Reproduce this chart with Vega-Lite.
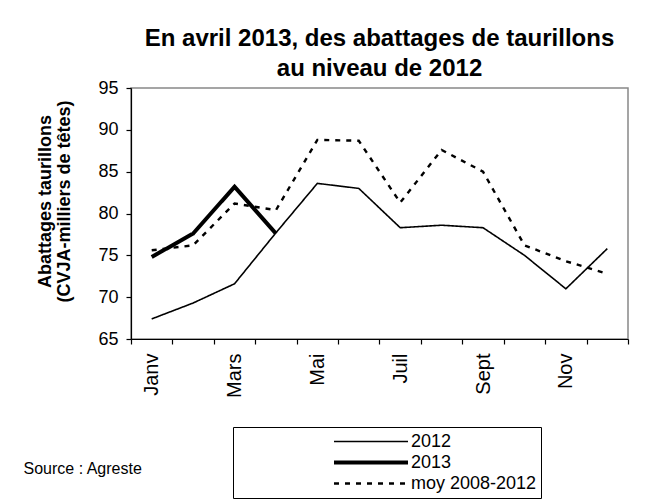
{
  "$schema": "https://vega.github.io/schema/vega-lite/v6.json",
  "width": 497,
  "height": 251,
  "autosize": "none",
  "padding": {"left": 131, "top": 88, "right": 17, "bottom": 163},
  "background": "white",
  "title": {
    "text": ["En avril 2013, des abattages de taurillons", "au niveau de 2012"],
    "anchor": "middle",
    "fontSize": 24,
    "fontWeight": "bold",
    "font": "Liberation Sans",
    "color": "black",
    "lineHeight": 30,
    "offset": -2
  },
  "data": {
    "values": [
      {"mois": "Janv", "serie": "2012", "v": 67.4},
      {"mois": "Févr", "serie": "2012", "v": 69.3},
      {"mois": "Mars", "serie": "2012", "v": 71.6},
      {"mois": "Avr", "serie": "2012", "v": 77.7},
      {"mois": "Mai", "serie": "2012", "v": 83.6},
      {"mois": "Juin", "serie": "2012", "v": 83.0},
      {"mois": "Juil", "serie": "2012", "v": 78.3},
      {"mois": "Août", "serie": "2012", "v": 78.6},
      {"mois": "Sept", "serie": "2012", "v": 78.3},
      {"mois": "Oct", "serie": "2012", "v": 75.0},
      {"mois": "Nov", "serie": "2012", "v": 71.0},
      {"mois": "Déc", "serie": "2012", "v": 75.8},
      {"mois": "Janv", "serie": "2013", "v": 74.8},
      {"mois": "Févr", "serie": "2013", "v": 77.6},
      {"mois": "Mars", "serie": "2013", "v": 83.2},
      {"mois": "Avr", "serie": "2013", "v": 77.6},
      {"mois": "Janv", "serie": "moy 2008-2012", "v": 75.6},
      {"mois": "Févr", "serie": "moy 2008-2012", "v": 76.2},
      {"mois": "Mars", "serie": "moy 2008-2012", "v": 81.2},
      {"mois": "Avr", "serie": "moy 2008-2012", "v": 80.4},
      {"mois": "Mai", "serie": "moy 2008-2012", "v": 88.8},
      {"mois": "Juin", "serie": "moy 2008-2012", "v": 88.7},
      {"mois": "Juil", "serie": "moy 2008-2012", "v": 81.3},
      {"mois": "Août", "serie": "moy 2008-2012", "v": 87.6},
      {"mois": "Sept", "serie": "moy 2008-2012", "v": 85.0},
      {"mois": "Oct", "serie": "moy 2008-2012", "v": 76.2},
      {"mois": "Nov", "serie": "moy 2008-2012", "v": 74.3},
      {"mois": "Déc", "serie": "moy 2008-2012", "v": 72.8}
    ]
  },
  "mark": {"type": "line", "strokeJoin": "miter", "strokeCap": "butt", "color": "black"},
  "encoding": {
    "x": {
      "field": "mois",
      "type": "ordinal",
      "sort": ["Janv", "Févr", "Mars", "Avr", "Mai", "Juin", "Juil", "Août", "Sept", "Oct", "Nov", "Déc"],
      "scale": {"paddingInner": 0, "paddingOuter": 0},
      "axis": {
        "title": "Source : Agreste",
        "titleX": -108,
        "titleY": 129,
        "titleAlign": "left",
        "titleBaseline": "middle",
        "titleAnchor": null,
        "titleFontWeight": "normal",
        "titleFontSize": 16,
        "labelAngle": -90,
        "labelAlign": "right",
        "labelBaseline": "middle",
        "labelPadding": 9,
        "labelFontSize": 20,
        "labelExpr": "indexof(['Janv','Mars','Mai','Juil','Sept','Nov'], datum.value) >= 0 ? datum.value : ''",
        "tickBand": "extent",
        "tickSize": 5
      }
    },
    "y": {
      "field": "v",
      "type": "quantitative",
      "scale": {"domain": [65, 95], "nice": false, "zero": false},
      "axis": {
        "values": [65, 70, 75, 80, 85, 90, 95],
        "title": ["Abattages taurillons", "(CVJA-milliers de têtes)"],
        "titleFontSize": 18,
        "titleFontWeight": "bold",
        "titleLineHeight": 19,
        "titlePadding": 24,
        "titleY": 113,
        "labelPadding": 8,
        "labelFontSize": 18,
        "tickSize": 5,
        "grid": false
      }
    },
    "strokeWidth": {
      "field": "serie",
      "type": "nominal",
      "scale": {"type": "ordinal", "domain": ["2012", "2013", "moy 2008-2012"], "range": [1.6, 4, 2.4]},
      "legend": {
        "title": null,
        "orient": "none",
        "legendX": 102,
        "legendY": 339,
        "symbolType": "stroke",
        "symbolSize": 5476,
        "symbolStrokeColor": "black",
        "symbolOffset": 95,
        "clipHeight": 21,
        "labelOffset": 1,
        "labelFontSize": 18,
        "rowPadding": -2,
        "padding": 4,
        "strokeColor": "black",
        "fillColor": "white"
      }
    },
    "strokeDash": {
      "field": "serie",
      "type": "nominal",
      "scale": {"domain": ["2012", "2013", "moy 2008-2012"], "range": [[1, 0], [1, 0], [5, 6]]},
      "legend": {
        "title": null,
        "orient": "none",
        "legendX": 102,
        "legendY": 339,
        "symbolType": "stroke",
        "symbolSize": 5476,
        "symbolStrokeColor": "black",
        "symbolOffset": 95,
        "clipHeight": 21,
        "labelOffset": 1,
        "labelFontSize": 18,
        "rowPadding": -2,
        "padding": 4,
        "strokeColor": "black",
        "fillColor": "white"
      }
    }
  },
  "config": {
    "font": "Liberation Sans",
    "view": {"stroke": "#888888", "strokeWidth": 1.5},
    "axis": {
      "domainColor": "black",
      "tickColor": "black",
      "labelColor": "black",
      "titleColor": "black",
      "labelFont": "Liberation Sans",
      "titleFont": "Liberation Sans",
      "domainWidth": 1.2,
      "tickWidth": 1.2
    },
    "legend": {"labelColor": "black", "labelFont": "Liberation Sans"}
  }
}
